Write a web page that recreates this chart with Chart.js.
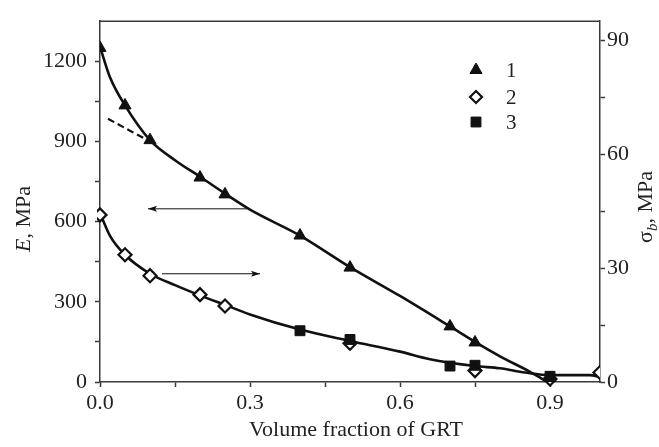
<!DOCTYPE html>
<html>
<head>
<meta charset="utf-8">
<script src="https://cdn.jsdelivr.net/npm/chart.js@4/dist/chart.umd.min.js"></script>
<style>
html,body{margin:0;padding:0;background:#fff;}
#wrap{width:659px;height:447px;position:relative;}
</style>
</head>
<body>
<div id="wrap"><canvas id="c" width="659" height="447"></canvas></div>
<script>
// ---- data ----
const seriesLabels = ['1', '2', '3'];
// series 1: Young's modulus E (MPa), left axis
const s1X = [0, 0.05, 0.1, 0.2, 0.25, 0.4, 0.5, 0.7, 0.75, 0.9];
const s1Y = [1250, 1035, 905, 765, 702, 548, 428, 208, 148, 12];
// series 2: strength sigma_b (MPa), right axis
const s2X = [0, 0.05, 0.1, 0.2, 0.25, 0.5, 0.75, 0.9, 1.0];
const s2Y = [44, 33.5, 28, 23, 20, 10.2, 3.0, 0.8, 2.5];
// series 3: strength sigma_b (MPa), right axis
const s3X = [0.4, 0.5, 0.7, 0.75, 0.9];
const s3Y = [13.5, 11.2, 4.2, 4.4, 1.5];
// fitted curve for E
const c1X = [0, 0.02, 0.05, 0.1, 0.15, 0.2, 0.25, 0.3, 0.4, 0.5, 0.6, 0.7, 0.75, 0.8, 0.86, 0.895];
const c1Y = [1255, 1140, 1035, 905, 830, 768, 705, 645, 548, 430, 322, 208, 150, 96, 38, 0];
// dashed extrapolation for E
const dX = [0.016, 0.06, 0.104];
const dY = [985, 940, 896];
// fitted curve for sigma_b
const c2X = [0, 0.02, 0.05, 0.1, 0.15, 0.2, 0.25, 0.3, 0.4, 0.5, 0.6, 0.66, 0.75, 0.8, 0.85, 0.9, 0.98, 1.0];
const c2Y = [44.5, 38.5, 33.5, 28.5, 25.5, 22.8, 20.3, 17.8, 13.8, 10.8, 8.0, 6.0, 4.2, 3.6, 2.5, 1.8, 1.8, 1.3];
// axis ticks
const xTicks = [0, 0.15, 0.3, 0.45, 0.6, 0.75, 0.9];
const xLabels = ['0.0', '', '0.3', '', '0.6', '', '0.9'];
const yTicks = [0, 150, 300, 450, 600, 750, 900, 1050, 1200];
const yLabels = ['0', '', '300', '', '600', '', '900', '', '1200'];
const y2Ticks = [0, 15, 30, 45, 60, 75, 90];
const y2Labels = ['0', '', '30', '', '60', '', '90'];

const zip = (xs, ys) => xs.map((x, i) => ({x: x, y: ys[i]}));
const FONT = '"Liberation Serif", "DejaVu Serif", serif';
const AX = '#3a3a3a';

function setTicks(vals) {
  return function(scale) { scale.ticks = vals.map(v => ({value: v})); };
}
function labelFrom(vals, labels) {
  return function(value) { const i = vals.indexOf(value); return i >= 0 ? labels[i] : ''; };
}

const decorPlugin = {
  id: 'decor',
  afterDatasetsDraw(chart) {
    const ctx = chart.ctx;
    const a = chart.chartArea;
    const xs = chart.scales.x, ys = chart.scales.y, y2 = chart.scales.y2;
    ctx.save();
    // frame top
    ctx.strokeStyle = AX;
    ctx.lineWidth = 1.5;
    ctx.beginPath();
    ctx.moveTo(a.left, a.top);
    ctx.lineTo(a.right, a.top);
    ctx.stroke();
    // arrows
    function arrow(x1, x2, yPix) {
      const p1 = xs.getPixelForValue(x1), p2 = xs.getPixelForValue(x2);
      const dir = p2 > p1 ? 1 : -1;
      ctx.strokeStyle = '#111';
      ctx.lineWidth = 1;
      ctx.beginPath();
      ctx.moveTo(p1, yPix);
      ctx.lineTo(p2, yPix);
      ctx.stroke();
      ctx.fillStyle = '#111';
      ctx.beginPath();
      ctx.moveTo(p2, yPix);
      ctx.lineTo(p2 - dir * 9, yPix - 3);
      ctx.lineTo(p2 - dir * 7, yPix);
      ctx.lineTo(p2 - dir * 9, yPix + 3);
      ctx.closePath();
      ctx.fill();
    }
    arrow(0.294, 0.096, ys.getPixelForValue(648));
    arrow(0.124, 0.32, y2.getPixelForValue(28.5));

    // legend
    const lx = 476, ly = [70, 97, 122];
    const styles = ['triangle', 'rectRot', 'rect'];
    const fills = ['#111', '#fff', '#111'];
    const radii = [7, 6, 7];
    for (let i = 0; i < 3; i++) {
      ctx.fillStyle = fills[i];
      ctx.strokeStyle = '#111';
      ctx.lineWidth = i === 1 ? 2.2 : 1;
      Chart.helpers.drawPoint(ctx, {pointStyle: styles[i], radius: radii[i], rotation: 0, borderWidth: ctx.lineWidth}, lx, ly[i]);
      ctx.fillStyle = '#222';
      ctx.font = '21px ' + FONT;
      ctx.textAlign = 'left';
      ctx.textBaseline = 'middle';
      ctx.fillText(seriesLabels[i], 506, ly[i] + 1);
    }

    // axis titles
    ctx.fillStyle = '#222';
    ctx.textBaseline = 'middle';
    // x title
    ctx.font = '22px ' + FONT;
    ctx.textAlign = 'center';
    ctx.textBaseline = 'alphabetic';
    ctx.fillText('Volume fraction of GRT', 356, 436);

    // left title: "E, MPa" rotated
    function rotatedRuns(cx, cy, runs) {
      ctx.save();
      ctx.translate(cx, cy);
      ctx.rotate(-Math.PI / 2);
      let total = 0;
      runs.forEach(r => { ctx.font = r.font; total += ctx.measureText(r.t).width; });
      let x = -total / 2;
      ctx.textAlign = 'left';
      ctx.textBaseline = 'alphabetic';
      runs.forEach(r => {
        ctx.font = r.font;
        ctx.fillText(r.t, x, r.dy || 0);
        x += ctx.measureText(r.t).width;
      });
      ctx.restore();
    }
    rotatedRuns(30, 219, [
      {t: 'E', font: 'italic 22px ' + FONT},
      {t: ', MPa', font: '22px ' + FONT}
    ]);
    rotatedRuns(652, 207, [
      {t: 'σ', font: '22px ' + FONT},
      {t: 'b', font: 'italic 15px ' + FONT, dy: 5},
      {t: ', MPa', font: '22px ' + FONT}
    ]);
    ctx.restore();
  }
};

const lineCommon = {showLine: true, pointRadius: 0, borderColor: '#111', borderWidth: 2.6, fill: false, cubicInterpolationMode: 'monotone'};

new Chart(document.getElementById('c'), {
  type: 'scatter',
  data: {
    datasets: [
      {label: seriesLabels[0], data: zip(s1X, s1Y), yAxisID: 'y', pointStyle: 'triangle', pointRadius: 7, backgroundColor: '#111', borderColor: '#111', borderWidth: 1},
      {label: seriesLabels[2], data: zip(s3X, s3Y), yAxisID: 'y2', pointStyle: 'rect', pointRadius: 7, backgroundColor: '#111', borderColor: '#111', borderWidth: 1},
      {label: seriesLabels[1], data: zip(s2X, s2Y), yAxisID: 'y2', pointStyle: 'rectRot', pointRadius: 6.5, backgroundColor: '#fff', borderColor: '#111', borderWidth: 2.2, clip: {left: 3, right: 0, top: 10, bottom: 10}},
      Object.assign({label: 'c1', data: zip(c1X, c1Y), yAxisID: 'y'}, lineCommon),
      Object.assign({label: 'd', data: zip(dX, dY), yAxisID: 'y', borderDash: [7, 4]}, lineCommon, {borderWidth: 2.2}),
      Object.assign({label: 'c2', data: zip(c2X, c2Y), yAxisID: 'y2'}, lineCommon)
    ]
  },
  options: {
    responsive: false,
    devicePixelRatio: 1,
    animation: false,
    layout: {padding: {left: 0, right: 0, top: 13, bottom: 0}},
    plugins: {legend: {display: false}, tooltip: {enabled: false}},
    scales: {
      x: {
        type: 'linear', min: 0, max: 1,
        afterBuildTicks: setTicks(xTicks),
        afterFit: s => { s.height = 65; },
        grid: {drawOnChartArea: false, tickLength: 5, color: AX, tickWidth: 1.5},
        border: {display: true, color: AX, width: 1.5},
        ticks: {callback: labelFrom(xTicks, xLabels), font: {family: FONT, size: 22}, color: '#222', padding: 3, maxRotation: 0, autoSkip: false}
      },
      y: {
        type: 'linear', position: 'left', min: 0, max: 1350,
        afterBuildTicks: setTicks(yTicks),
        afterFit: s => { s.width = 100; },
        grid: {drawOnChartArea: false, tickLength: 5, color: AX, tickWidth: 1.5},
        border: {display: true, color: AX, width: 1.5},
        ticks: {callback: labelFrom(yTicks, yLabels), font: {family: FONT, size: 22}, color: '#222', padding: 8, autoSkip: false}
      },
      y2: {
        type: 'linear', position: 'right', min: 0, max: 95,
        afterBuildTicks: setTicks(y2Ticks),
        afterFit: s => { s.width = 59; },
        grid: {drawOnChartArea: false, tickLength: 5, color: AX, tickWidth: 1.5},
        border: {display: true, color: AX, width: 1.5},
        ticks: {callback: labelFrom(y2Ticks, y2Labels), font: {family: FONT, size: 22}, color: '#222', padding: 2, autoSkip: false}
      }
    }
  },
  plugins: [decorPlugin]
});
</script>
</body>
</html>
